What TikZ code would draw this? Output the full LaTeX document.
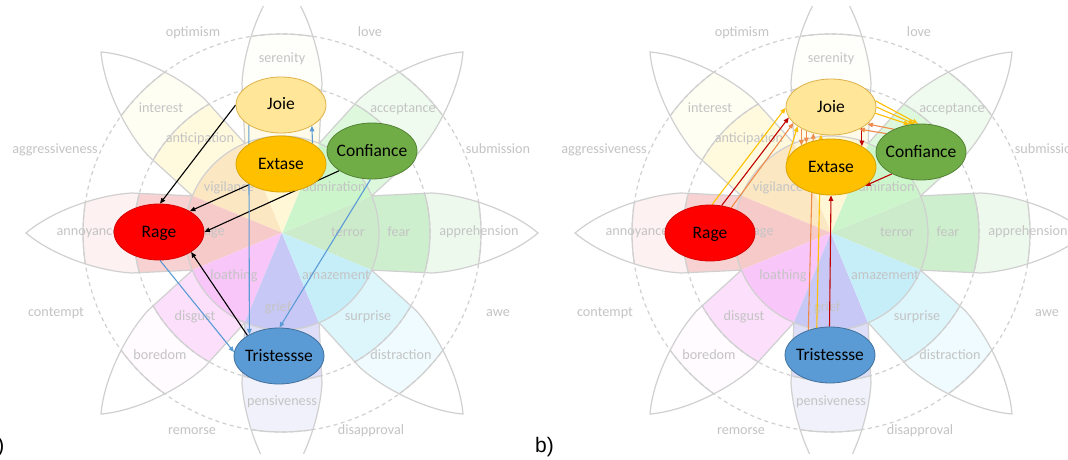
\documentclass[tikz,border=0pt]{standalone}
\usepackage{fontspec}
\setmainfont{Carlito}
\newfontfamily\panelfont{Liberation Sans}
\usetikzlibrary{shapes.geometric,arrows.meta}

% wheel colours: I = inner ring, M = middle ring, O = outer ring
\definecolor{joyI}{HTML}{FFF7D6}
\definecolor{joyM}{HTML}{FFFBE8}
\definecolor{joyO}{HTML}{FEFEFB}
\definecolor{antI}{HTML}{FCE7C3}
\definecolor{antM}{HTML}{FFF9DE}
\definecolor{antO}{HTML}{FFFEF3}
\definecolor{trustI}{HTML}{CCF5CC}
\definecolor{trustM}{HTML}{DDF8DD}
\definecolor{trustO}{HTML}{EFFBEF}
\definecolor{fearI}{HTML}{CBEBCB}
\definecolor{fearM}{HTML}{CDEFCD}
\definecolor{fearO}{HTML}{EEF9EE}
\definecolor{surI}{HTML}{C6EEF9}
\definecolor{surM}{HTML}{DCF6FC}
\definecolor{surO}{HTML}{EFFBFE}
\definecolor{sadI}{HTML}{C8C8F6}
\definecolor{sadM}{HTML}{DEDEF9}
\definecolor{sadO}{HTML}{F1F1FB}
\definecolor{disI}{HTML}{F8C6F8}
\definecolor{disM}{HTML}{FBDFFB}
\definecolor{disO}{HTML}{FFFBFF}
\definecolor{angI}{HTML}{F7CACA}
\definecolor{angM}{HTML}{F8D2D2}
\definecolor{angO}{HTML}{FDF1F1}
\definecolor{wheelgray}{HTML}{D0D0D0}
\definecolor{labelgray}{HTML}{C4C4C4}
% node and link colours
\definecolor{joieFill}{HTML}{FFE699}
\definecolor{joieLine}{HTML}{DDB24A}
\definecolor{extFill}{HTML}{FFC000}
\definecolor{extLine}{HTML}{D9A300}
\definecolor{confFill}{HTML}{70AD47}
\definecolor{confLine}{HTML}{548235}
\definecolor{rageFill}{HTML}{FF0000}
\definecolor{rageLine}{HTML}{D60000}
\definecolor{tristFill}{HTML}{5B9BD5}
\definecolor{tristLine}{HTML}{41719C}
\definecolor{linkBlue}{HTML}{5B9BD5}
\definecolor{linkYellow}{HTML}{FFC000}
\definecolor{linkOrange}{HTML}{F08A4B}
\definecolor{linkRed}{HTML}{C00000}

\pgfdeclarelayer{front}
\pgfsetlayers{main,front}

% one petal along the x axis
\newcommand{\petalpath}{(0,0) -- (22.5:97) -- (150,40) .. controls (185,38) and (230,22) .. (256,0) .. controls (230,-22) and (185,-38) .. (150,-40) -- (-22.5:97) -- cycle}
\newcommand{\petaledge}{(22.5:97) -- (150,40) .. controls (185,38) and (230,22) .. (256,0) .. controls (230,-22) and (185,-38) .. (150,-40) -- (-22.5:97)}

% the wheel: #1 centre, #2 prefix of the label names
\newcommand{\wheel}[2]{%
\begin{scope}[shift={#1}]
  \clip (-290,-220) rectangle (290,226);
  \foreach \a/\ci/\cm/\co in {0/fearI/fearM/fearO, 45/trustI/trustM/trustO,
      90/joyI/joyM/joyO, 135/antI/antM/antO, 180/angI/angM/angO,
      225/disI/disM/disO, 270/sadI/sadM/sadO, 315/surI/surM/surO}{
    \begin{scope}[rotate=\a]
      \begin{scope}
        \clip \petalpath;
        \fill[fill=\co] (0,0) circle[radius=199];
        \fill[fill=\cm] (0,0) circle[radius=148];
        \fill[fill=\ci] (0,0) circle[radius=97];
        \draw[rim] (0,0) circle[radius=148] (0,0) circle[radius=199];
      \end{scope}
      \draw[rim] \petaledge;
    \end{scope}
  }
  \draw[rim] (0,0) circle[radius=97];
  \draw[rim, dash pattern=on 4pt off 3.5pt] (0,0) circle[radius=148] (0,0) circle[radius=199];
  \foreach \x/\y/\t in {-89/199/optimism, 88/199/love, 0/173/serenity,
      -121/124/interest, 121/124/acceptance, -82/94/anticipation,
      -227/83/aggressiveness, 216/83/submission, -53/45/vigilance, 52/45/admiration,
      -194/1/annoyance, -70/1/rage, 66/0/terror, 117/0/fear, 197/1/apprehension,
      -48/-43/loathing, 54/-43/amazement, -226/-80/contempt, 216/-80/awe,
      -87/-84/disgust, 86/-84/surprise, -4/-75/grief, -122/-123/boredom,
      119/-123/distraction, 0/-169/pensiveness, -90/-198/remorse, 89/-198/disapproval}
    \node[emotext] (#2\t) at (\x,\y) {\t};
\end{scope}}

\begin{document}
\begin{tikzpicture}[x=1pt, y=1pt,
    rim/.style = {draw=wheelgray, line width=1.2pt},
    emotext/.style = {text=labelgray, font=\fontsize{14.2}{16}\selectfont, inner sep=0pt, text height=6pt, text depth=0pt},
    emotion/.style = {ellipse, minimum width=90pt, minimum height=56pt, inner xsep=-10pt, inner ysep=0pt,
        line width=0.8pt, font=\fontsize{17.5}{20}\selectfont, text height=10pt, text depth=0pt},
    panel/.style = {font=\panelfont\fontsize{21}{24}\selectfont, inner sep=0pt},
    link/.style = {line width=1.1pt, -{Triangle[length=5.5pt,width=4.5pt]}}
    ]
    \useasboundingbox[fill=white] (0,0) rectangle (1068,459);

    \wheel{(282,226)}{a}
    \wheel{(831,226)}{b}

    \begin{pgfonlayer}{front}
    % panel a
    \node[emotion, fill=joieFill, draw=joieLine] (joieA) at (281,354) {Joie};
    \node[emotion, fill=extFill, draw=extLine] (extA) at (281,295) {Extase};
    \node[emotion, fill=confFill, draw=confLine] (confA) at (372,308) {Confiance};
    \node[emotion, fill=rageFill, draw=rageLine] (rageA) at (159,227) {Rage};
    \node[emotion, fill=tristFill, draw=tristLine] (tristA) at (279,103) {Tristessse};
    % panel b
    \node[emotion, fill=joieFill, draw=joieLine] (joieB) at (831,352) {Joie};
    \node[emotion, fill=extFill, draw=extLine] (extB) at (831,292) {Extase};
    \node[emotion, fill=confFill, draw=confLine] (confB) at (921,307) {Confiance};
    \node[emotion, fill=rageFill, draw=rageLine] (rageB) at (710,226) {Rage};
    \node[emotion, fill=tristFill, draw=tristLine] (tristB) at (830,104) {Tristessse};
    \end{pgfonlayer}

    % panel a links
    \draw[link] (joieA.180) -- (rageA.88);
    \draw[link] (extA.213) -- (rageA.34);
    \draw[link] (confA.211) -- (rageA.0);
    \draw[link] (tristA.147) -- (rageA.328);
    \draw[link, linkBlue] (rageA.272) -- (tristA.175);
    \draw[link, linkBlue] (confA.267) -- (tristA.89);
    \draw[link, linkBlue] (joieA.212) -- (tristA.144);
    \draw[link, linkBlue] (extA.33) -- (joieA.326);

    % panel b links
    \draw[link, linkYellow] (rageB.86) -- (joieB.181);
    \draw[link, linkRed] (rageB.67) -- (joieB.194);
    \draw[link, linkOrange] (rageB.50) -- (joieB.203);
    \draw[link, linkOrange] (tristB.131) -- (joieB.236);
    \draw[link, linkYellow] (tristB.116) -- (joieB.250);
    \draw[link, linkRed] (tristB.91) -- (extB.270);
    \draw[link, linkOrange] (joieB.216) -- (extB.144);
    \draw[link, linkOrange] (joieB.224) -- (extB.136);
    \draw[link, linkYellow] (extB.171) -- (joieB.210);
    \draw[link, linkRed] (joieB.326) -- (extB.34);
    \draw[link, linkYellow] (joieB.8) -- (confB.96);
    \draw[link, linkYellow] (joieB.0) -- (confB.104);
    \draw[link, linkYellow] (joieB.352) -- (confB.113);
    \draw[link, linkOrange] (confB.140) -- (joieB.335);
    \draw[link, linkOrange] (confB.152) -- (joieB.322);
    \draw[link, linkRed] (confB.217) -- (extB.331);

    \node[panel, anchor=base east] (labelA) at (4.5,7) {a)};
    \node[panel, anchor=base west] (labelB) at (535,7) {b)};
\end{tikzpicture}
\end{document}
